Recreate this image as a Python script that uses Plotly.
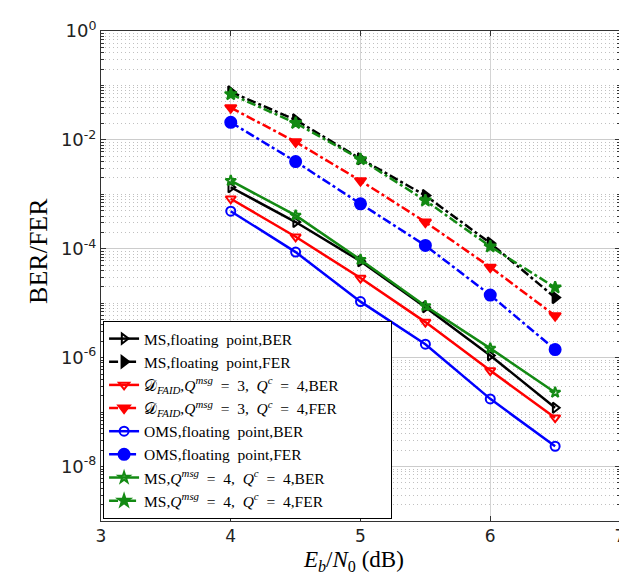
import numpy as np
import plotly.graph_objects as go

ebn0 = [4.0, 4.5, 5.0, 5.5, 6.0, 6.5]

ms_ber = [1.35e-3, 3.1e-4, 5.9e-5, 8.4e-6, 1.1e-6, 1.2e-7]
ms_fer = [0.076, 0.0233, 0.0045, 9.5e-4, 1.27e-4, 1.27e-5]
faid_ber = [8.3e-4, 1.66e-4, 2.9e-5, 4.5e-6, 5.8e-7, 7.9e-8]
faid_fer = [0.039, 0.0092, 0.00178, 3.1e-4, 4.6e-5, 5.9e-6]
oms_ber = [4.9e-4, 8.7e-5, 1.07e-5, 1.77e-6, 1.75e-7, 2.36e-8]
oms_fer = [0.021, 0.0040, 6.7e-4, 1.15e-4, 1.41e-5, 1.41e-6]
msq_ber = [1.78e-3, 4.1e-4, 6.3e-5, 8.9e-6, 1.48e-6, 2.3e-7]
msq_fer = [0.069, 0.0204, 0.0044, 7.7e-4, 1.1e-4, 1.94e-5]

EQ = "&nbsp;&nbsp;=&nbsp;&nbsp;"
PAD = "&nbsp;" * 12
names = [
    "MS,floating&nbsp;&nbsp;point,BER",
    "MS,floating&nbsp;&nbsp;point,FER",
    "𝒟<sub><i>FAID</i></sub>,<i>Q</i><sup><i>msg</i></sup>" + EQ + "3,&nbsp;&nbsp;<i>Q</i><sup><i>c</i></sup>" + EQ + "4,BER" + PAD,
    "𝒟<sub><i>FAID</i></sub>,<i>Q</i><sup><i>msg</i></sup>" + EQ + "3,&nbsp;&nbsp;<i>Q</i><sup><i>c</i></sup>" + EQ + "4,FER",
    "OMS,floating&nbsp;&nbsp;point,BER",
    "OMS,floating&nbsp;&nbsp;point,FER",
    "MS,<i>Q</i><sup><i>msg</i></sup>" + EQ + "4,&nbsp;&nbsp;<i>Q</i><sup><i>c</i></sup>" + EQ + "4,BER",
    "MS,<i>Q</i><sup><i>msg</i></sup>" + EQ + "4,&nbsp;&nbsp;<i>Q</i><sup><i>c</i></sup>" + EQ + "4,FER",
]
series = [ms_ber, ms_fer, faid_ber, faid_fer, oms_ber, oms_fer, msq_ber, msq_fer]
colors = ["black", "black", "#ff0000", "#ff0000", "#0000ff", "#0000ff", "#138a13", "#138a13"]
dashes = ["solid", "dashdot"] * 4
symbols = ["triangle-right-open", "triangle-right",
           "triangle-down-open", "triangle-down",
           "circle-open", "circle",
           "star-open", "star"]
sizes = [9, 10, 9, 10, 9, 11, 8, 9]

y_major = [1e-8, 1e-6, 1e-4, 1e-2, 1e0]
y_major_text = ["10<sup>-8</sup>", "10<sup>-6</sup>", "10<sup>-4</sup>", "10<sup>-2</sup>", "10<sup>0</sup>"]
x_ticks = [3, 4, 5, 6, 7]

fig = go.Figure()
for name, ys, c, d, s, sz in zip(names, series, colors, dashes, symbols, sizes):
    fig.add_trace(go.Scatter(
        x=ebn0, y=ys, name=name, mode="lines+markers",
        line=dict(color=c, width=2.5, dash=d),
        marker=dict(symbol=s, size=sz, color=c, line=dict(color=c, width=2)),
    ))

minor_vals = [k * 10.0 ** e for e in range(-9, 0) for k in range(1, 10)
              if not (k == 1 and e % 2 == 0)]

serif = "Liberation Serif, Times New Roman, serif"

fig.update_layout(
    width=627, height=575,
    margin=dict(l=93, r=10, t=17, b=62),
    paper_bgcolor="white", plot_bgcolor="white",
    showlegend=True,
    legend=dict(
        x=0.004, y=0.004, xanchor="left", yanchor="bottom",
        bgcolor="white", bordercolor="black", borderwidth=1,
        font=dict(family=serif, size=15.5, color="black"),
        tracegroupgap=0, itemwidth=30,
    ),
    annotations=[
        dict(text="<i>E</i><sub><i>b</i></sub>/<i>N</i><sub>0</sub> (dB)",
             xref="paper", yref="paper", x=(348 - 93) / 524, y=-(553 - 513) / 496,
             xanchor="center", yanchor="middle", showarrow=False,
             font=dict(family=serif, size=23, color="black")),
        dict(text="BER/FER", textangle=-90,
             xref="paper", yref="paper", x=-(93 - 30) / 524, y=(513 - 240) / 496,
             xanchor="center", yanchor="middle", showarrow=False,
             font=dict(family=serif, size=26, color="black")),
    ],
)
fig.update_xaxes(
    range=[3, 7], tickvals=x_ticks, ticktext=[str(v) for v in x_ticks],
    showgrid=True, gridcolor="#d4d4d4", gridwidth=1,
    showline=True, linecolor="#333333", linewidth=1, mirror="ticks",
    ticks="inside", ticklen=5, tickcolor="#333333",
    tickfont=dict(family="DejaVu Sans, sans-serif", size=17, color="#222222"),
    zeroline=False,
)
fig.update_yaxes(
    type="log", range=[-9, 0],
    tickvals=y_major, ticktext=y_major_text,
    showgrid=True, gridcolor="#cccccc", gridwidth=1,
    showline=True, linecolor="#333333", linewidth=1, mirror="ticks",
    ticks="inside", ticklen=5, tickcolor="#333333",
    tickfont=dict(family="DejaVu Sans, sans-serif", size=18, color="#222222"),
    zeroline=False,
    minor=dict(tickvals=minor_vals, showgrid=True, gridcolor="#c0c0c0",
               griddash="1px,3px", gridwidth=1, ticks="inside", ticklen=3,
               tickcolor="#333333"),
)

fig.write_html("out.html")
